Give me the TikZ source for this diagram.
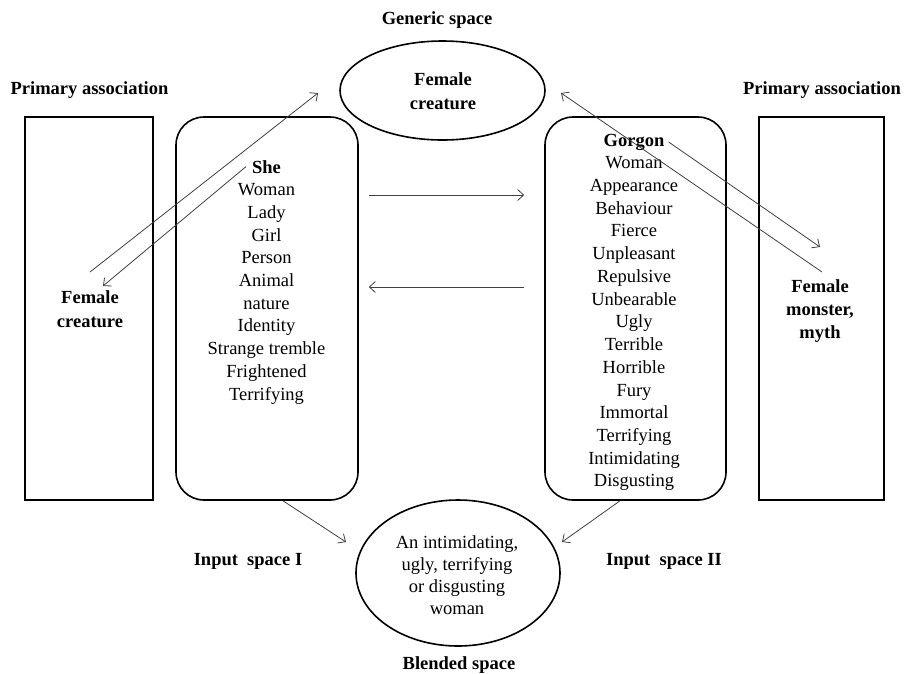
\documentclass[tikz,border=0pt]{standalone}
\usepackage{fontspec}
\setmainfont{Liberation Serif}
\usetikzlibrary{shapes,arrows.meta,positioning}

\begin{document}
\begin{tikzpicture}[x=1pt,y=-1pt,
	word/.style={anchor=base,inner sep=0pt,font=\fontsize{18.5}{22.7}\selectfont},
	head/.style={anchor=base,inner sep=0pt,font=\fontsize{18.5}{22.7}\selectfont\bfseries},
	frame/.style={draw,line width=1.6pt},
	link/.style={-{Straight Barb[length=6pt,width=11pt]},line width=0.8pt,black!75}]
		\useasboundingbox (0,0) rectangle (904,673);
		% spaces
		\node[frame,minimum width=128pt,minimum height=383pt] (primL) at (89,308.5) {};
		\node[frame,rounded corners=28pt,minimum width=182pt,minimum height=383pt] (inI) at (267,308.5) {};
		\node[frame,rounded corners=28pt,minimum width=181pt,minimum height=383pt] (inII) at (635.5,308.5) {};
		\node[frame,minimum width=125pt,minimum height=383pt] (primR) at (821.5,308.5) {};
		\node[frame,ellipse,inner sep=0pt,minimum width=205pt,minimum height=99pt] (generic) at (442.5,90.5) {};
		\node[frame,ellipse,inner sep=0pt,minimum width=204pt,minimum height=146pt] (blend) at (458,573) {};
		% titles
		\node[head] (tgen) at (437,24) {Generic space};
		\node[head] (tprimL) at (89.5,94) {Primary association};
		\node[head] (tprimR) at (822,94) {Primary association};
		\node[head] (tinI) at (248,565) {Input\ \ space I};
		\node[head] (tinII) at (664,565) {Input\ \ space II};
		\node[head] (tblend) at (459,669) {Blended space};
		% contents
		\foreach \t [count=\i] in {Female,creature} \node[head] (gen\i) at (443,61+24*\i) {\t};
		\foreach \t [count=\i] in {Female,creature} \node[head] (femL\i) at (90,278.5+24.5*\i) {\t};
		\foreach \t [count=\i] in {Female,{monster,},myth} \node[head] (femR\i) at (820,269+23*\i) {\t};
		\node[head] (l0) at (266.5,173) {She};
		\foreach \t [count=\i] in {Woman,Lady,Girl,Person,Animal,nature,Identity,Strange tremble,Frightened,Terrifying}
			\node[word] (l\i) at (266.5,173+22.7*\i) {\t};
		\node[head] (r0) at (634,146) {Gorgon};
		\foreach \t [count=\i] in {Woman,Appearance,Behaviour,Fierce,Unpleasant,Repulsive,Unbearable,Ugly,Terrible,Horrible,Fury,Immortal,Terrifying,Intimidating,Disgusting}
			\node[word] (r\i) at (634,146+22.73*\i) {\t};
		\foreach \t [count=\i] in {{An intimidating,},{ugly, terrifying},or disgusting,woman} \node[word] (b\i) at (457,526+22*\i) {\t};
		% connectors
		\coordinate (genL) at (318,93);
		\coordinate (genR) at (561,93);
		\coordinate (fcL) at (90,272);
		\coordinate (fcL2) at (103,286);
		\coordinate (fmR) at (822,272);
		\coordinate (fmR2) at (820,247);
		\coordinate (blL) at (346,542);
		\coordinate (blR) at (562,542);
		\draw[link] (fcL) -- (genL);
		\draw[link] ([xshift=-6pt]l0.west) -- (fcL2);
		\draw[link] (fmR) -- (genR);
		\draw[link] ([xshift=4pt]r0.east) -- (fmR2);
		\draw[link] ([xshift=10pt,yshift=113.5pt]inI.east) -- ([xshift=-20pt,yshift=113.5pt]inII.west);
		\draw[link] ([xshift=-20pt,yshift=21.5pt]inII.west) -- ([xshift=10pt,yshift=21.5pt]inI.east);
		\draw[link] ([xshift=16pt]inI.south) -- (blL);
		\draw[link] ([xshift=-15.5pt]inII.south) -- (blR);
\end{tikzpicture}
\end{document}
